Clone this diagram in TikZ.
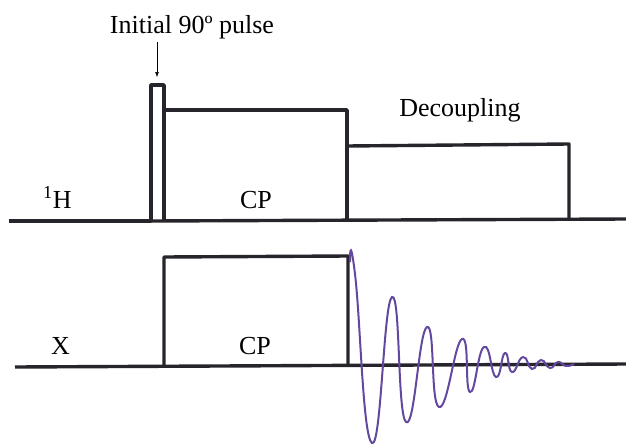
\documentclass[tikz,border=0pt]{standalone}
\usepackage{fontspec}
\setmainfont{Liberation Serif}
\usepackage{xcolor}
\usepackage{tikz}
\usetikzlibrary{arrows.meta}
\definecolor{MoradoFID}{RGB}{98,72,158}
\definecolor{GrisTinta}{RGB}{40,36,44}

\begin{document}
\begin{tikzpicture}[>=Latex,x=1pt,y=-1pt,
    pulso/.style={line width=3.4pt,GrisTinta,line join=round},
    etiqueta/.style={font=\fontsize{26}{30}\selectfont,inner sep=0pt}]
  \useasboundingbox (0,0) rectangle (626,447);
  % canal 1H
  \draw[pulso] (9,221) -- (151,221) -- (151,85) -- (164,85) -- (164,221);
  \draw[pulso] (164,110) -- (347,110) -- (347,221);
  \draw[pulso] (347,146) -- (569,144) -- (569,220);
  \draw[pulso] (151,221) -- (626,219);
  % canal X
  \draw[pulso] (15,367) -- (626,364);
  \draw[pulso] (164,366) -- (164,257) -- (348,256) -- (348,365);
  % FID
  \draw[MoradoFID,line width=2pt] plot[smooth,tension=0.9] coordinates {
    (350,262) (355,274) (372,443) (392,297) (406,422) (427,327) (439,407)
    (462,339) (470,392) (484,347) (496,377) (505,353) (512,372) (523,357)
    (532,369) (541,360) (550,368) (558,362) (566,366) (574,364)};
  % textos
  \coordinate (pulsetop) at (157,77);
  \coordinate (arrowtail) at (157,42);
  \node[etiqueta] (pulselbl) at (192,27) {Initial 90º pulse};
  \draw[->,thin] (arrowtail) -- (pulsetop);
  \node[etiqueta,anchor=base] (declbl) at (460,116) {Decoupling};
  \node[etiqueta,anchor=base west] (hlbl) at (43,208) {\textsuperscript{1}H};
  \node[etiqueta,anchor=base] (cph) at (256,208) {CP};
  \node[etiqueta,anchor=base west] (xlbl) at (51,354) {X};
  \node[etiqueta,anchor=base] (cpx) at (255,354) {CP};
\end{tikzpicture}
\end{document}
